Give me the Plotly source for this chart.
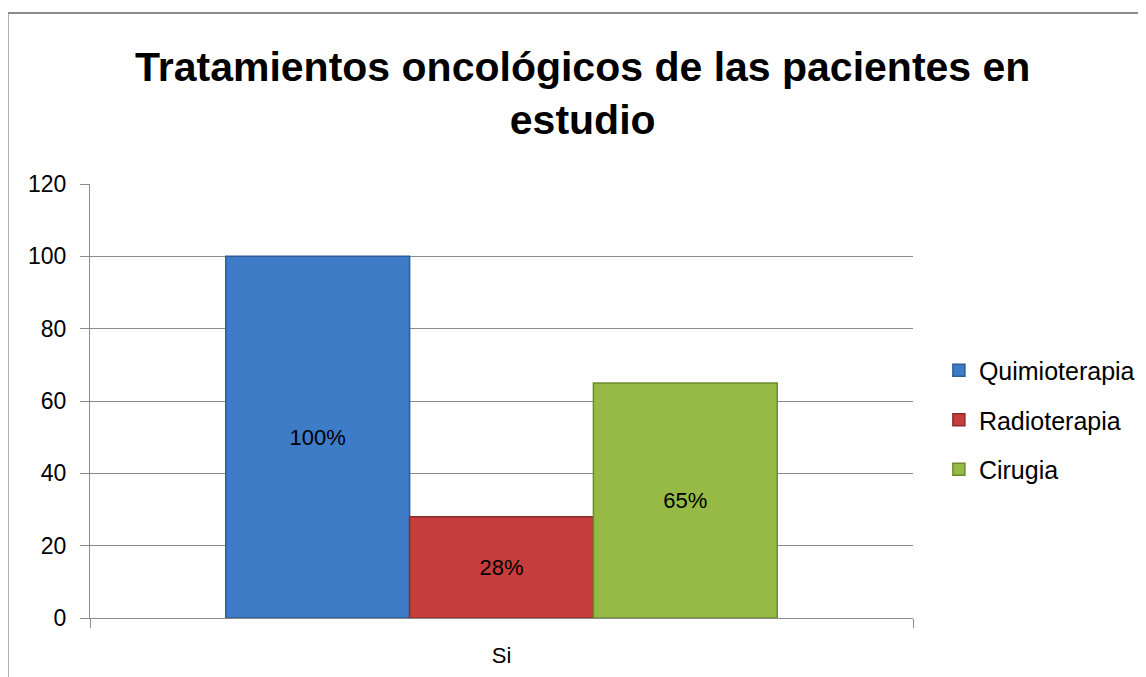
import plotly.graph_objects as go

categories = ["Si"]
series_names = ["Quimioterapia", "Radioterapia", "Cirugia"]
values_quimio = [100]
values_radio = [28]
values_cirugia = [65]
label_quimio = ["100%"]
label_radio = ["28%"]
label_cirugia = ["65%"]
tick_vals = [0, 20, 40, 60, 80, 100, 120]

colors = ["#3E7CC8", "#C73D3D", "#96BA45"]
line_colors = ["#2D5C96", "#8E2B2B", "#6B8A2C"]

FONT = "Liberation Sans, Arial, sans-serif"

fig = go.Figure()
for name, vals, labels, c, lc in zip(series_names,
                                     [values_quimio, values_radio, values_cirugia],
                                     [label_quimio, label_radio, label_cirugia],
                                     colors, line_colors):
    fig.add_trace(go.Bar(
        name=name, x=categories, y=vals, text=labels, legendgroup=name,
        textposition="inside", insidetextanchor="middle",
        textfont=dict(color="black", size=22, family=FONT),
        marker=dict(color=c, line=dict(color=lc, width=1.5)),
    ))

fig.update_layout(
    width=1138, height=669,
    barmode="group", bargap=0.33, bargroupgap=0,
    plot_bgcolor="white", paper_bgcolor="white",
    margin=dict(l=82, r=233, t=176, b=59, autoexpand=False),
    font=dict(family=FONT, size=22, color="black"),
    title=dict(
        text="<b>Tratamientos oncológicos de las pacientes en<br>estudio</b>",
        x=0.505, xanchor="center", xref="container",
        y=0.891, yanchor="middle", yref="container",
        font=dict(size=41, family=FONT, color="black"),
    ),
    showlegend=True,
    legend=dict(x=0.818, xref="container", xanchor="left",
                y=0.456, yanchor="middle",
                font=dict(size=25, family=FONT), tracegroupgap=14,
                traceorder="grouped", itemwidth=30),
    uniformtext=dict(mode="show", minsize=10),
)
fig.update_yaxes(range=[0, 120], tickvals=tick_vals, showgrid=True,
                 gridcolor="#8C8C8C", gridwidth=1, showline=True,
                 linecolor="#8C8C8C", linewidth=1, ticks="outside",
                 ticklen=9, tickcolor="#8C8C8C", zeroline=False,
                 tickfont=dict(size=23), ticklabelstandoff=9,
                 automargin=False)
fig.update_xaxes(showline=True, linecolor="#8C8C8C", linewidth=1,
                 ticks="outside", tickson="boundaries", ticklen=9,
                 tickcolor="#8C8C8C", tickfont=dict(size=22),
                 ticklabelstandoff=18, automargin=False)

# chart border
fig.add_shape(type="line", xref="paper", yref="paper",
              x0=-0.1, x1=-0.1, y0=-0.2, y1=1.394,
              line=dict(color="#8C8C8C", width=2))
fig.add_shape(type="line", xref="paper", yref="paper",
              x0=-0.1, x1=1.3, y0=1.394, y1=1.394,
              line=dict(color="#8C8C8C", width=2))

fig.write_html("out.html")
